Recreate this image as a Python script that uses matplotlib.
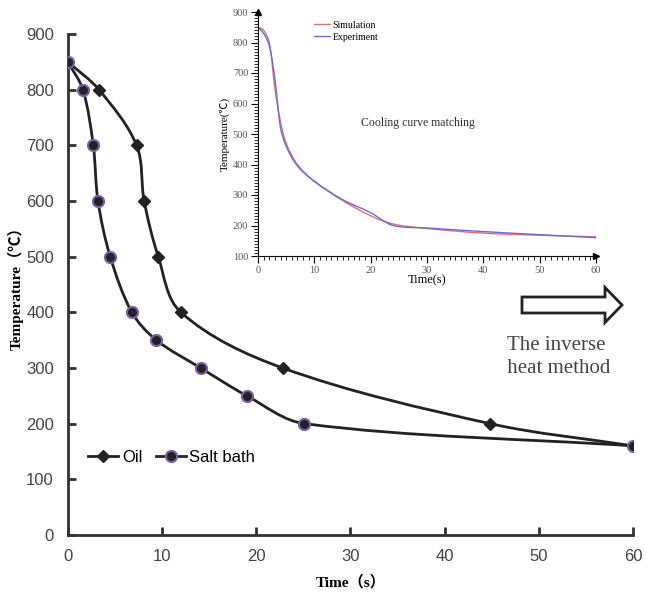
import numpy as np
import matplotlib.pyplot as plt
from matplotlib.path import Path
from matplotlib.patches import PathPatch, FancyArrow

# main chart data
oil_t = [0, 3.3, 7.3, 8.1, 9.6, 12.0, 22.8, 44.8, 60]
oil_T = [850, 800, 700, 600, 500, 400, 300, 200, 160]
salt_t = [0, 1.6, 2.7, 3.2, 4.5, 6.8, 9.4, 14.1, 19.0, 25.1, 60]
salt_T = [850, 800, 700, 600, 500, 400, 350, 300, 250, 200, 160]

# inset data
sim_t = [0, 1, 2, 3, 4, 5, 7, 10, 15, 20, 24, 30, 40, 50, 60]
sim_T = [850, 840, 800, 650, 540, 470, 400, 345, 282, 232, 205, 190, 175, 168, 163]
exp_t = [0, 1, 2, 3, 4, 5, 7, 10, 15, 20, 24, 30, 40, 50, 60]
exp_T = [850, 830, 790, 680, 520, 460, 395, 345, 285, 242, 200, 192, 180, 170, 160]

serif = ['Liberation Serif', 'Noto Sans CJK SC']
sans = ['Liberation Sans', 'DejaVu Sans']


def smooth_path(xs, ys, sx, sy):
    # bezier segments through the points, tangents worked out in screen-like units
    p = np.column_stack([np.asarray(xs) * sx, np.asarray(ys) * sy]).astype(float)
    n = len(p)
    tang = []
    for i in range(n):
        a = p[i - 1] if i > 0 else p[i]
        b = p[i + 1] if i + 1 < n else p[i]
        d = b - a
        tang.append(d / np.hypot(*d))
    verts = [p[0]]
    codes = [Path.MOVETO]
    for i in range(n - 1):
        L = np.hypot(*(p[i + 1] - p[i])) / 3
        verts += [p[i] + tang[i] * L, p[i + 1] - tang[i + 1] * L, p[i + 1]]
        codes += [Path.CURVE4] * 3
    verts = np.array(verts) / [sx, sy]
    return Path(verts, codes)


fig = plt.figure(figsize=(6.46, 5.97), dpi=100)
ax = fig.add_axes([0.105, 0.104, 0.875, 0.839])

for xs, ys in [(oil_t, oil_T), (salt_t, salt_T)]:
    ax.add_patch(PathPatch(smooth_path(xs, ys, 565 / 60, 501 / 900), fc='none',
                           ec='#222222', lw=2, zorder=2))

ax.plot(oil_t, oil_T, ls='none', marker='D', ms=6, color='#222222', zorder=3)
ax.plot(salt_t, salt_T, ls='none', marker='o', ms=8, mfc='#222222', mec='#7b5ea7', mew=1.5, zorder=3)

# legend handles
h1, = ax.plot([], [], '-', color='#222222', lw=2, marker='D', ms=6)
h2, = ax.plot([], [], '-', color='#222222', lw=2, marker='o', ms=8, mfc='#222222', mec='#7b5ea7', mew=1.5)
ax.legend([h1, h2], ['Oil', 'Salt bath'], loc='lower left', bbox_to_anchor=(0.01, 0.11),
          ncol=2, frameon=False, handlelength=1.8, handletextpad=0.2, columnspacing=0.8,
          prop={'family': sans, 'size': 12})

ax.set_xlim(0, 60)
ax.set_ylim(0, 900)
ax.set_xticks(range(0, 61, 10))
ax.set_yticks(range(0, 901, 100))
for s in ['top', 'right']:
    ax.spines[s].set_visible(False)
for s in ['left', 'bottom']:
    ax.spines[s].set_linewidth(2)
    ax.spines[s].set_color('#333333')
ax.tick_params(direction='in', width=2, length=6, color='#333333', labelsize=12,
               labelcolor='#444444', pad=10)
for lab in ax.get_xticklabels() + ax.get_yticklabels():
    lab.set_family(sans)
ax.set_xlabel('Time（s）', family=serif, fontweight='bold', fontsize=11, labelpad=8)
ax.set_ylabel('Temperature（℃）', family=serif, fontweight='bold', fontsize=11, labelpad=2)

# hollow arrow and text
fig.add_artist(FancyArrow(522 / 646, 1 - 305 / 597, 100 / 646, 0, width=16 / 597,
                          head_width=35 / 597, head_length=17 / 646, length_includes_head=True,
                          fc='white', ec='#222222', lw=2, transform=fig.transFigure))
fig.text(556 / 646, 1 - 357 / 597, 'The inverse\n heat method', family=serif, fontsize=15,
         color='#444444', ha='center', va='center', linespacing=1.3)

# inset
ins = fig.add_axes([258 / 646, 1 - 256 / 597, 338 / 646, 244 / 597])
ins.add_patch(PathPatch(smooth_path(sim_t, sim_T, 338 / 60, 244 / 800), fc='none',
                        ec='#e07070', lw=1))
ins.add_patch(PathPatch(smooth_path(exp_t, exp_T, 338 / 60, 244 / 800), fc='none',
                        ec='#6b6bd0', lw=1))
hs, = ins.plot([], [], color='#e07070', lw=1)
he, = ins.plot([], [], color='#6b6bd0', lw=1)
ins.set_xlim(0, 60)
ins.set_ylim(100, 900)
ins.set_xticks(range(0, 61, 10))
ins.set_yticks(range(100, 901, 100))
ins.set_xticks(range(0, 61, 1), minor=True)
ins.set_yticks(range(100, 901, 10), minor=True)
for s in ['top', 'right']:
    ins.spines[s].set_visible(False)
ins.tick_params(which='major', length=5, width=0.8, labelsize=7.5, labelcolor='#555555', pad=2)
ins.tick_params(which='minor', length=3, width=0.6)
for lab in ins.get_xticklabels() + ins.get_yticklabels():
    lab.set_family(serif)
ins.plot(0, 1, marker='^', color='black', ms=5, transform=ins.transAxes, clip_on=False)
ins.plot(1, 0, marker='>', color='black', ms=5, transform=ins.transAxes, clip_on=False)
ins.set_xlabel('Time(s)', family=serif, fontsize=9, labelpad=0)
ins.set_ylabel('Temperature(℃)', family=serif, fontsize=8, labelpad=2)
ins.text(28.4, 536, 'Cooling curve matching', family=serif, fontsize=8.5, color='#333333',
         ha='center', va='center')
ins.legend([hs, he], ['Simulation', 'Experiment'], loc='upper left', bbox_to_anchor=(0.14, 1.0),
           frameon=False, handlelength=1.6, handletextpad=0.3, labelspacing=0.3,
           prop={'family': serif, 'size': 7})

fig.savefig('out.png', dpi=100, facecolor='white')
